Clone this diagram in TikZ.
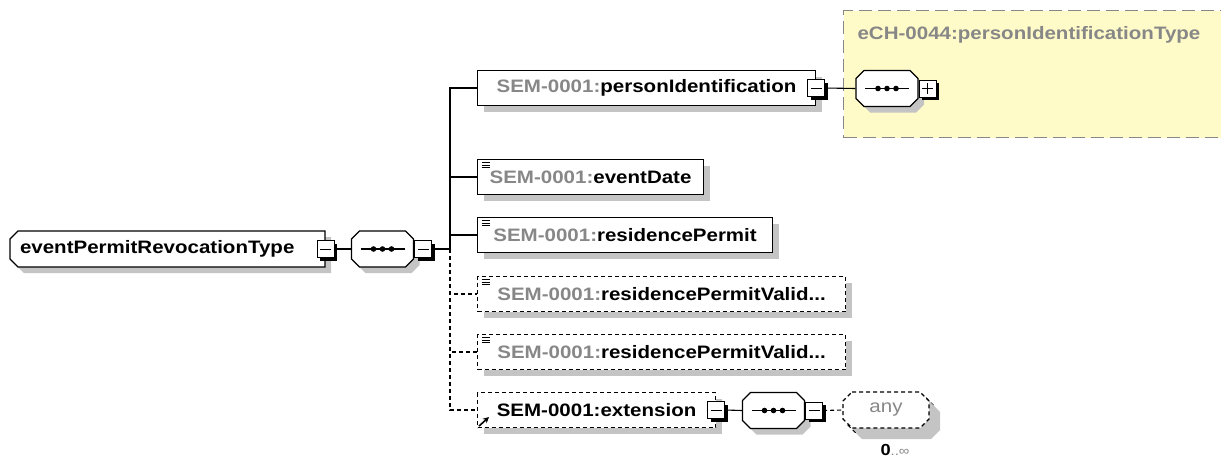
\documentclass[tikz,border=0pt]{standalone}
\usepackage{fontspec}
\setmainfont{Liberation Sans}
\newfontfamily\xsdfont[FakeStretch=1.14]{Liberation Sans}
\usetikzlibrary{shadows,arrows.meta}
\definecolor{nsgray}{RGB}{135,135,135}
\definecolor{shgray}{RGB}{196,196,196}
\definecolor{typeyellow}{RGB}{255,251,200}
\def\ns{\textcolor{nsgray}{SEM-0001:}}

% chamfered outline with shadow: [opts] left, top, right, bottom, left cut, right cut
\newcommand\chamshape[7][]{%
  \def\champ{(#2+#6,#3) -- (#4-#7,#3) -- (#4,#3+#7) -- (#4,#5-#7) -- (#4-#7,#5)
    -- (#2+#6,#5) -- (#2,#5-#6) -- (#2,#3+#6) -- cycle}%
  \fill[shgray,shift={(6,6)}] \champ;
  \draw[fill=white,#1] \champ;}

% sequence compositor: name, centre x, centre y
\newcommand\seqnode[3]{%
  \chamshape{#2-31}{#3-18}{#2+31}{#3+18}{8}{8}
  \node[seqbox] (#1) at (#2,#3) {};
  \draw (#2-22,#3) -- (#2+22,#3);
  \foreach \d in {-9,0,9}
    \fill (#2+\d,#3) circle (2.8);}

\tikzset{
  xsd/.style={font=\xsdfont\fontsize{18}{20}\selectfont\bfseries},
  shade6/.style={drop shadow={shadow xshift=6pt,shadow yshift=-6pt,fill=shgray,opacity=1}},
  optional/.style={dash pattern=on 4pt off 3pt},
  elem/.style={xsd,draw,fill=white,minimum height=35pt,inner sep=0pt,anchor=west,shade6},
  simple/.style={path picture={
    \foreach \k in {0,1,2}
      \draw[solid,line width=0.9pt] ([xshift=4pt,yshift={-(3+2.5*\k)*1pt}]path picture bounding box.north west) -- ++(8,0);}},
  btn/.style={draw,solid,fill=white,minimum size=17pt,inner sep=0pt,line width=1pt,
    drop shadow={shadow xshift=3pt,shadow yshift=-3pt,fill=black,opacity=1}},
  minusbtn/.style={btn,path picture={
    \draw ([xshift=3pt]path picture bounding box.west) -- ([xshift=-3pt]path picture bounding box.east);}},
  plusbtn/.style={btn,path picture={
    \draw ([xshift=3pt]path picture bounding box.west) -- ([xshift=-3pt]path picture bounding box.east);
    \draw ([yshift=-3pt]path picture bounding box.north) -- ([yshift=3pt]path picture bounding box.south);}},
  seqbox/.style={minimum width=62pt,minimum height=36pt,inner sep=0pt},
  typebox/.style={draw=nsgray,fill=typeyellow,dash pattern=on 13pt off 6pt,line width=1.2pt}
}

\begin{document}
\begin{tikzpicture}[x=1pt,y=-1pt,line width=1.1pt]
  \useasboundingbox (0,0) rectangle (1221,459);

  % referenced type
  \node[typebox,minimum width=378pt,minimum height=127pt,anchor=north west] (pidtype) at (843,10) {};
  \node[xsd,text=nsgray,anchor=west,inner sep=0pt] (pidtypename) at (857,35) {eCH-0044:personIdentificationType};

  % root and its sequence
  \chamshape{10}{231}{325}{267}{8}{0}
  \node[xsd,text width=295pt,align=left,inner xsep=10pt,inner ysep=0pt,minimum height=36pt] (rootel) at (167.5,249)
    {eventPermitRevocationType};
  \node[minusbtn] (rootbtn) at (rootel.east) {};
  \seqnode{seqa}{382.5}{249}
  \node[minusbtn,anchor=west] (seqabtn) at (seqa.east) {};
  \coordinate (fork) at (450,249);

  % children
  \node[elem,minimum width=338pt] (pid) at (477,88) {\ns personIdentification\hspace{8pt}};
  \node[minusbtn] (pidbtn) at (pid.east) {};
  \node[elem,simple,minimum width=226pt] (evd) at (477,177) {\ns eventDate};
  \node[elem,simple,minimum width=295pt] (rp) at (477,235) {\ns residencePermit};
  \node[elem,simple,optional,minimum width=368pt] (rpva) at (477,294) {\ns residencePermitValid...};
  \node[elem,simple,optional,minimum width=368pt] (rpvb) at (477,352) {\ns residencePermitValid...};
  \node[elem,optional,minimum width=238pt] (ext) at (477,410) {SEM-0001:extension\hspace{8pt}};
  \node[minusbtn] (extbtn) at (ext.east) {};
  \draw[-{Stealth[length=6pt,width=6pt]},line width=1.6pt] ([xshift=2pt,yshift=2pt]ext.south west) -- ++(10,-9);

  % inner sequences
  \seqnode{seqb}{887}{88.5}
  \node[plusbtn,anchor=west] (seqbbtn) at (seqb.east) {};
  \seqnode{seqc}{773.5}{410.5}
  \node[minusbtn,anchor=west] (seqcbtn) at (seqc.east) {};

  % any, 0..unbounded
  \chamshape[optional]{847}{397}{934}{433}{9}{9}
  \chamshape[optional]{843}{392}{929}{428}{9}{9}
  \node[font=\xsdfont\fontsize{18}{20}\selectfont,text=nsgray,minimum width=86pt,minimum height=36pt,
    inner sep=0pt] (anya) at (886,410) {any\hspace{46pt}};
  \node[font=\xsdfont\fontsize{16}{17}\selectfont,anchor=north,inner sep=0pt] (occ) at (895,444)
    {\textbf{0}\textcolor{nsgray}{\fontsize{13}{14}\selectfont..∞}};

  % connectors
  \draw (rootbtn.east) -- (seqa.west);
  \draw (seqabtn.east) -- (fork);
  \foreach \c in {pid,evd,rp}
    \draw (fork) |- (\c.west);
  \foreach \c in {rpva,rpvb,ext}
    \draw[optional] (fork) |- (\c.west);
  \draw (pidbtn.east) -- (seqb.west);
  \draw (extbtn.east) -- (seqc.west);
  \draw[optional] (seqcbtn.east) -- (anya.west);

\end{tikzpicture}
\end{document}
